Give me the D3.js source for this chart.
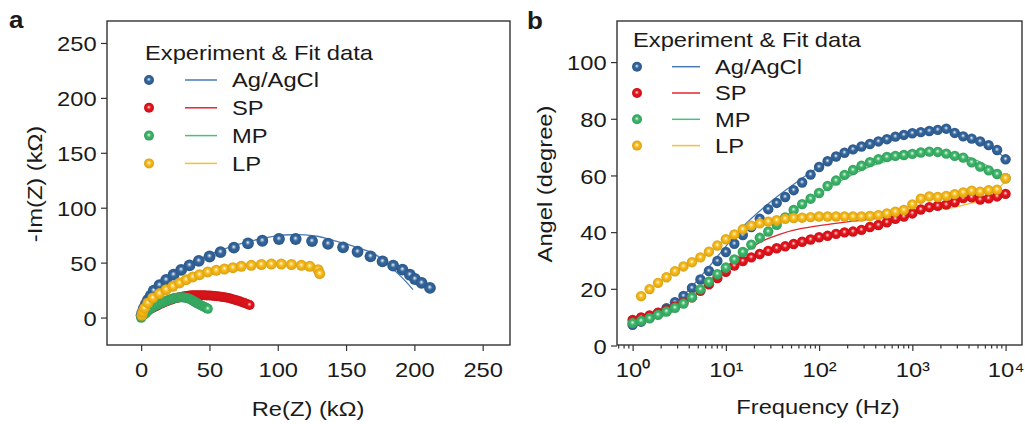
<!DOCTYPE html>
<html>
<head>
<meta charset="UTF-8">
<script src="https://d3js.org/d3.v7.min.js"></script>
<style>
  body { margin: 0; background: #fff; }
  svg text { font-family: "Liberation Sans", Arial, sans-serif; fill: #1a1a1a; }
</style>
</head>
<body>
<svg id="canvas"></svg>
<script>

// ---------- data ----------
const seriesNames = ["Ag/AgCl", "SP", "MP", "LP"];
const seriesColors = ["#33669e", "#e8141c", "#3cb86a", "#fbbc18"];
const lineColors = ["#4a7ab5", "#e2262c", "#4cc07a", "#f6c12e"];

// Nyquist: [Re(Z), -Im(Z)] in kOhm
const agNyq = [[0.3,2],[1,5],[2,8.5],[3.5,12.5],[5,16],[7,20],[9.2,24.5],[13.4,29.5],[18.3,34.3],[23.7,39],[29.3,43.4],[35.4,47.5],[42.2,51.6],[50.1,55.6],[58.1,59.6],[67.9,63.6],[78.2,67.6],[88.7,69.9],[100.9,71.5],[113.1,71.5],[125.1,69.6],[136.8,67.2],[147.8,63.9],[158.4,59.9],[167.9,55.7],[176.7,51.1],[184.5,47.2],[191.3,43.6],[196.7,39],[200.4,35.1],[205.3,31.5],[211.4,27]];
const spNyq = [[0.3,1],[1,2.5],[2.4,4.3],[4.2,5.8],[6.1,7.3],[8,8.5],[9.8,9.7],[11.6,10.8],[13.4,11.8],[15.2,12.9],[17.1,13.9],[18.9,14.8],[20.7,15.7],[22.5,16.5],[24.4,17.3],[26.2,17.9],[28.1,18.4],[29.9,18.9],[31.7,19.3],[33.5,19.7],[35.4,20],[37.2,20.2],[39.1,20.3],[40.9,20.3],[42.7,20.3],[44.5,20.3],[46.4,20.3],[48.2,20.1],[50.1,20],[51.9,19.9],[53.7,19.7],[55.5,19.4],[57.4,19.1],[59.2,18.8],[61,18.4],[62.9,18],[64.7,17.5],[66.5,16.9],[68.4,16.3],[70.2,15.6],[72.1,14.8],[73.9,14],[75.7,13.3],[77.5,12.4],[79.4,11.5]];
const mpNyq = [[0,-0.3],[0.6,0.8],[1.2,1.8],[2.4,2.7],[3.6,4.2],[4.9,5.8],[6.1,7.3],[7.9,8.8],[9.8,10.3],[11.6,11.4],[13.4,12.4],[15.2,13.5],[17.1,14.5],[18.9,15.5],[20.7,16.3],[22.2,16.9],[23.7,17.5],[25.3,17.9],[26.8,18.2],[28,18.3],[29.3,18.4],[30.5,18.3],[31.7,18.2],[33,17.9],[34.2,17.5],[35.5,16.9],[36.7,16.3],[37.9,15.4],[39.1,14.5],[40.3,13.6],[41.5,12.7],[42.7,11.8],[44,10.9],[45.2,10.3],[46.4,9.7],[47.6,8.8],[48.8,7.9]];
const lpNyq = [[0.5,2],[1.2,5],[2.5,8.5],[4.9,13.3],[8.5,17.9],[13.4,21.8],[18.3,25.4],[23.2,28.4],[28.1,31.5],[33,34.5],[37.8,37],[42.7,39],[48.8,41.5],[55,43],[61,44.2],[67.2,45.4],[73.3,46.6],[80.6,47.5],[88,48.3],[95.3,48.7],[102.6,48.7],[110,48.3],[117.3,47.5],[123.4,46.6],[129.5,43.6],[130.7,40]];

const agNyqFit = [[0,0],[1,4.5],[3,10.5],[6,17],[10,23.5],[15,30.5],[20,36],[30,44.8],[40,51.5],[50,57.2],[60,62],[70,66.2],[80,69.6],[90,72.3],[100,74.6],[110,75.4],[120,75.2],[130,73.8],[140,70.5],[150,67],[160,63],[168,59.5],[175,54.5],[182,46.6],[188,40],[194,32.5],[199,25.4]];
const spNyqFit = [[0,0],[3,4.5],[6,8],[10,11],[15,14.2],[20,16.5],[25,18.3],[30,19.5],[40,20.6],[50,20.3],[60,18.9],[70,16.2],[79,12]];
const mpNyqFit = [[0,0],[3,4.5],[6,8],[10,11],[15,13.8],[20,16],[25,17.6],[30,18.3],[35,17.5],[40,15],[44,11.5],[48,8.5]];
const lpNyqFit = [[0,0],[2,7],[5,13],[10,19.5],[20,27.5],[30,33.2],[40,38],[50,41.8],[60,44.3],[70,46],[80,47.3],[90,48.1],[100,48.4],[110,48.2],[120,47],[127,44.5],[131,41]];

// Bode phase: frequency (Hz) and angle (degree)
const freq = [1,1.233,1.52,1.874,2.31,2.848,3.511,4.329,5.337,6.579,8.111,10,12.33,15.2,18.74,23.1,28.48,35.11,43.29,53.37,65.79,81.11,100,123.3,152,187.4,231,284.8,351.1,432.9,533.7,657.9,811.1,1000,1233,1520,1874,2310,2848,3511,4329,5337,6579,8111,10000];
const agAngle = [7.3,8.4,9.8,11.5,13.2,15.3,17.5,20.3,23.3,26.3,29.8,33,35.9,39,41.8,44.7,48.1,50.3,52.4,54.8,57.5,60.3,63,65,66.7,68,69.2,70.2,71.1,72,72.8,73.7,74.3,74.9,75.3,75.7,76.1,76.5,75,73.8,73,72,70.7,69,65.7];
const spAngle = [9,9.9,10.6,11.6,12.6,13.8,15.2,17,19.3,21.6,23.8,26,28.2,29.8,31.1,32.3,33.4,34.3,35,35.8,36.6,37.4,38.2,38.7,39.4,39.9,40.2,40.8,41.8,42.5,43.5,44.7,45.5,46.6,48,48.8,49.3,49.7,50.6,52,52.3,51.5,51.9,52.6,53.5];
const mpAngle = [7.9,8.7,9.6,10.8,12,13.3,14.8,17,19.8,22.5,25.2,27.5,30.4,33,35.6,38,40.2,42.6,45.2,47.8,49.9,51.8,53.8,56.3,58.2,60.2,61.9,63.4,64.7,65.7,66.5,66.9,67.2,67.6,68.1,68.4,68.3,67.7,66.9,66.3,64.6,63.1,61.8,60.5,59];
const lpAngle = [null,17.4,19.9,22.1,24.1,26.2,27.9,29.4,31.1,33.1,35.3,37.5,39.2,41,42.3,43.1,43.7,44.2,44.7,45,45.1,45.3,45.5,45.5,45.5,45.5,45.5,45.5,45.7,46,46.6,47.2,47.8,49.8,51.8,52.6,52.4,52.8,53.4,54,54.6,54.3,54.8,55,59];

const fitFreq = [1,1.585,2.512,3.981,6.31,10,15.85,25.12,39.81,63.1,100,158.5,251.2,398.1,631,1000,1585,2512,3981,6310,10000];
const agFit = [7.5,9.8,13.3,19.5,27,35,42.5,48.5,53.8,58.6,63,66.3,69,71.2,73,74.5,75.8,76,74,71,66];
const spFit = [9,10.3,12.2,16,21.5,27.5,33,37,39.5,41.2,42.3,43.2,44,44.8,45.7,47,49,51,52.3,52.5,53.5];
const mpFit = [8,9.3,11.3,15.8,21.5,26.8,32.5,38.5,44.5,49.5,53.5,57.5,61,63.8,65.8,67.2,68,67.8,66.5,63.5,58.5];
const lpFit = [null,20.2,25,28.6,32,37.5,40.8,43,44.3,45,45.4,45.6,45.7,45.9,46.5,47.5,48,48.5,50,52,58];

const nyqTicks = [0, 50, 100, 150, 200, 250];
const angleTicks = [0, 20, 40, 60, 80, 100];
const freqTicks = [1, 10, 100, 1000, 10000];
const supDigits = ["\u2070", "\u00b9", "\u00b2", "\u00b3", "\u2074"];

// ---------- setup ----------
const width = 1025, height = 424;
const SX = 1.13;   // text in the figure is a bit wide
const FS = 21;

const svg = d3.select("#canvas").attr("width", width).attr("height", height);

const defs = svg.append("defs");
seriesColors.forEach((c, i) => {
    const gr = defs.append("radialGradient").attr("id", "ball" + i)
        .attr("cx", "50%").attr("cy", "50%").attr("r", "55%")
        .attr("fx", "48%").attr("fy", "42%");
    gr.append("stop").attr("offset", "0%").attr("stop-color", "#ffffff");
    gr.append("stop").attr("offset", "14%").attr("stop-color", d3.interpolateRgb(c, "#fff")(0.55));
    gr.append("stop").attr("offset", "38%").attr("stop-color", c);
    gr.append("stop").attr("offset", "100%").attr("stop-color", d3.color(c).darker(0.5));
});

function text(g, str, x, y, opts) {
    opts = opts || {};
    return g.append("text")
        .attr("transform", `translate(${x},${y}) rotate(${opts.rot || 0}) scale(${SX},1)`)
        .attr("text-anchor", opts.anchor || "start")
        .style("font-size", (opts.size || FS) + "px")
        .style("font-weight", opts.bold ? "bold" : "normal")
        .text(str);
}

function frame(x0, y0, x1, y1) {
    svg.append("rect").attr("x", x0).attr("y", y0)
        .attr("width", x1 - x0).attr("height", y1 - y0)
        .attr("fill", "none").attr("stroke", "#333").attr("stroke-width", 1.4);
}

function styleAxis(g) {
    g.select(".domain").remove();
    g.selectAll(".tick line").attr("stroke", "#333").attr("stroke-width", 1.2);
    g.selectAll(".tick text").style("font-size", FS + "px").attr("fill", "#1a1a1a");
}

function legend(x, titleY, rowY, step, markX, lineX0, lineX1, textX) {
    const g = svg.append("g");
    text(g, "Experiment & Fit data", x, titleY);
    seriesNames.forEach((name, i) => {
        const y = rowY + i * step;
        g.append("circle").attr("cx", markX).attr("cy", y).attr("r", 5)
            .attr("fill", `url(#ball${i})`);
        g.append("line").attr("x1", lineX0).attr("x2", lineX1).attr("y1", y).attr("y2", y)
            .attr("stroke", lineColors[i]).attr("stroke-width", 1.5);
        text(g, name, textX, y + 7.3);
    });
}

// ---------- panel a : Nyquist ----------
const xA = d3.scaleLinear().domain([-25, 270]).range([107, 510]);
const yA = d3.scaleLinear().domain([-25, 270]).range([345, 21]);

frame(107, 21, 510, 345);

svg.append("g").attr("transform", "translate(0,345)")
    .call(d3.axisBottom(xA).tickValues(nyqTicks).tickSize(6).tickFormat(d3.format("d")))
    .call(styleAxis)
    .call(g => g.selectAll(".tick text").attr("y", 32).attr("dy", 0)
        .attr("transform", `scale(${SX},1)`));

svg.append("g").attr("transform", "translate(107,0)")
    .call(d3.axisLeft(yA).tickValues(nyqTicks).tickSize(6).tickFormat(d3.format("d")))
    .call(styleAxis)
    .call(g => g.selectAll(".tick text").attr("x", -9.2).attr("dy", "0.36em")
        .attr("transform", `scale(${SX},1)`));

const nyqLine = d3.line().x(d => xA(d[0])).y(d => yA(d[1])).curve(d3.curveCatmullRom);
const nyqData = [agNyq, spNyq, mpNyq, lpNyq];
const nyqFits = [agNyqFit, spNyqFit, mpNyqFit, lpNyqFit];
const nyqR = [5.9, 5, 5, 5.5];

nyqFits.forEach((f, i) => {
    svg.append("path").datum(f).attr("d", nyqLine)
        .attr("fill", "none").attr("stroke", lineColors[i]).attr("stroke-width", 1.3);
});
nyqData.forEach((pts, i) => {
    svg.append("g").selectAll("circle").data(pts).join("circle")
        .attr("cx", d => xA(d[0])).attr("cy", d => yA(d[1]))
        .attr("r", nyqR[i]).attr("fill", `url(#ball${i})`);
});

text(svg, "Re(Z) (k\u03a9)", 308, 416, {anchor: "middle", size: 21});
text(svg, "-Im(Z) (k\u03a9)", 42, 184, {anchor: "middle", size: 21, rot: -90});
text(svg, "a", 9, 28, {bold: true, size: 23});

legend(145, 59.5, 80, 27.8, 149, 185, 217, 232);

// ---------- panel b : Bode phase ----------
const xB = d3.scaleLog().domain([0.68, 15000]).range([617, 1022]);
const yB = d3.scaleLinear().domain([0, 114.5]).range([345.5, 21]);

frame(617, 21, 1022, 345);

const minorTicks = [];
[0.1, 1, 10, 100, 1000, 10000].forEach(dec => {
    for (let m = 2; m <= 9; m++) {
        const v = dec * m;
        if (v > 0.68 && v < 15000) minorTicks.push(v);
    }
});

svg.append("g").attr("transform", "translate(0,345)")
    .call(d3.axisBottom(xB).tickValues(minorTicks).tickSize(3.5).tickFormat(""))
    .call(styleAxis);

const xAxisB = svg.append("g").attr("transform", "translate(0,345)")
    .call(d3.axisBottom(xB).tickValues(freqTicks).tickSize(6).tickFormat(""))
    .call(styleAxis);
xAxisB.selectAll(".tick").each(function(d) {
    const t = d3.select(this).append("text")
        .attr("y", 32).attr("text-anchor", "middle")
        .attr("transform", `scale(${SX},1)`)
        .style("font-size", FS + "px").attr("fill", "#1a1a1a");
    t.append("tspan").text("10");
    t.append("tspan").text(supDigits[Math.round(Math.log10(d))]).style("font-size", FS + "px");
});

svg.append("g").attr("transform", "translate(617,0)")
    .call(d3.axisLeft(yB).tickValues(angleTicks).tickSize(6).tickFormat(d3.format("d")))
    .call(styleAxis)
    .call(g => g.selectAll(".tick text").attr("x", -9.2).attr("dy", "0.36em")
        .attr("transform", `scale(${SX},1)`));

const angleSets = [agAngle, spAngle, mpAngle, lpAngle];
const fitSets = [agFit, spFit, mpFit, lpFit];

const bodeLine = d3.line()
    .defined(d => d[1] != null)
    .x(d => xB(d[0])).y(d => yB(d[1]))
    .curve(d3.curveMonotoneX);

fitSets.forEach((vals, i) => {
    svg.append("path").datum(fitFreq.map((f, k) => [f, vals[k]])).attr("d", bodeLine)
        .attr("fill", "none").attr("stroke", lineColors[i]).attr("stroke-width", 1.3);
});
angleSets.forEach((vals, i) => {
    const pts = freq.map((f, k) => [f, vals[k]]).filter(d => d[1] != null);
    svg.append("g").selectAll("circle").data(pts).join("circle")
        .attr("cx", d => xB(d[0])).attr("cy", d => yB(d[1]))
        .attr("r", 5.2).attr("fill", `url(#ball${i})`);
});

text(svg, "Frequency (Hz)", 818, 414, {anchor: "middle", size: 21});
text(svg, "Angel (degree)", 552, 184, {anchor: "middle", size: 21, rot: -90});
text(svg, "b", 527, 29, {bold: true, size: 23});

legend(633, 46.7, 66.7, 26.3, 637, 672, 700, 715);

</script>
</body>
</html>
